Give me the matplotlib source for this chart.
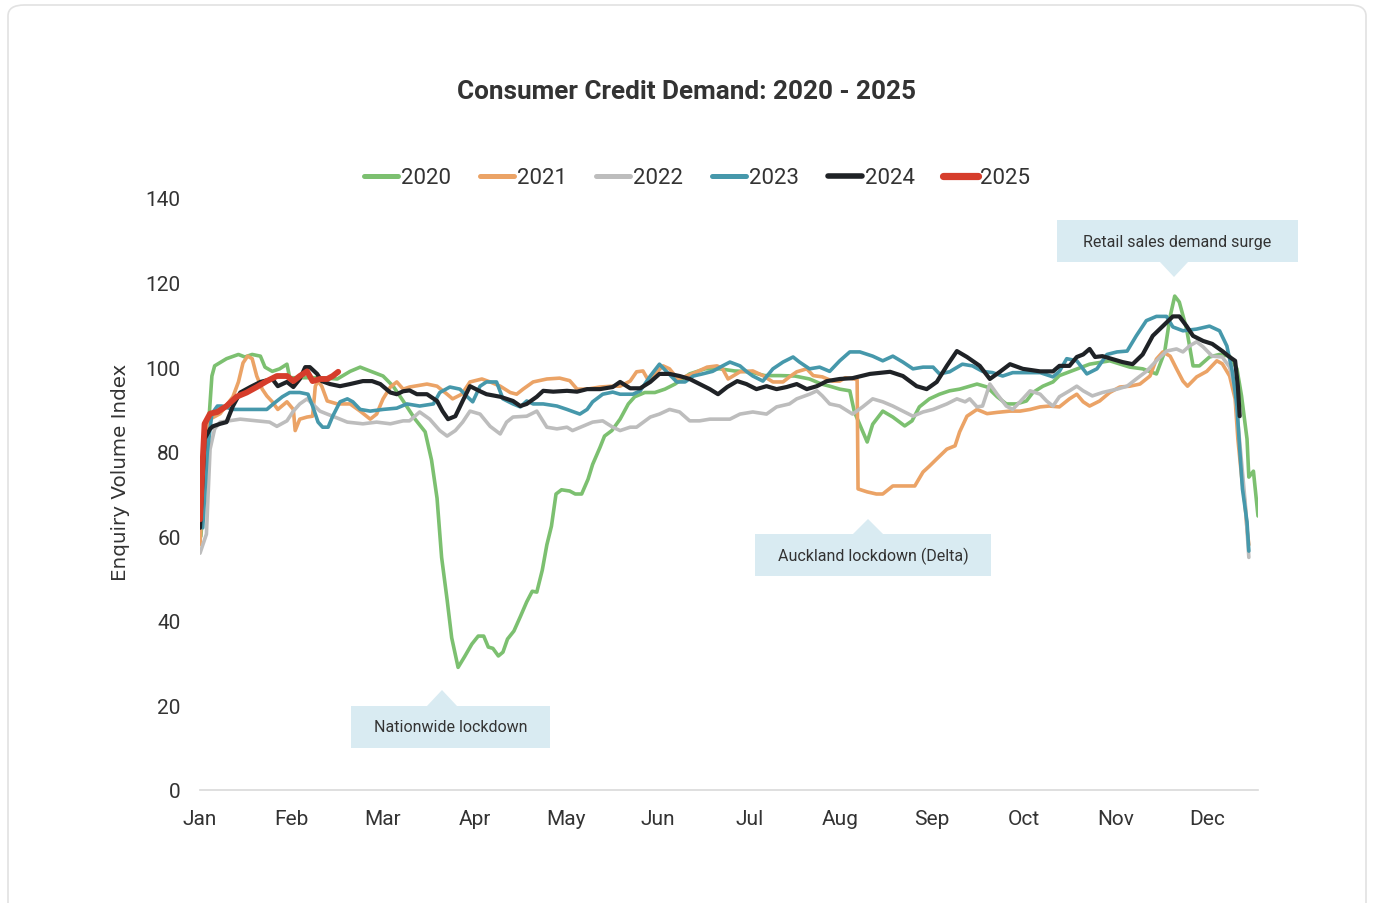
import matplotlib

matplotlib.use("Agg")
import matplotlib.pyplot as plt  # noqa: E402
from matplotlib.lines import Line2D  # noqa: E402
from matplotlib.patches import FancyBboxPatch, Polygon, Rectangle  # noqa: E402

plt.rcParams["font.family"] = ["Roboto", "DejaVu Sans"]

# x positions are in months since 1 Jan (0 = Jan, 11 = Dec), values are the index
months = ["Jan", "Feb", "Mar", "Apr", "May", "Jun", "Jul", "Aug", "Sep", "Oct", "Nov", "Dec"]
y_ticks = [0, 20, 40, 60, 80, 100, 120, 140]

x_2020 = [0.01, 0.13, 0.16, 0.29, 0.42, 0.49, 0.57, 0.66, 0.71, 0.79, 0.87, 0.95, 0.98, 1.09,
          1.31, 1.50, 1.64, 1.75, 1.88, 2.00, 2.11, 2.22, 2.35, 2.46, 2.53, 2.59, 2.64, 2.70,
          2.75, 2.82, 2.89, 2.97, 3.04, 3.10, 3.15, 3.20, 3.26, 3.31, 3.36, 3.43, 3.50, 3.57,
          3.63, 3.68, 3.74, 3.79, 3.84, 3.89, 3.95, 4.04, 4.10, 4.17, 4.24, 4.29, 4.37, 4.42,
          4.50, 4.59, 4.68, 4.75, 4.86, 4.97, 5.08, 5.19, 5.35, 5.52, 5.68, 5.84, 6.01, 6.17,
          6.34, 6.50, 6.66, 6.79, 6.88, 6.99, 7.10, 7.15, 7.29, 7.35, 7.46, 7.57, 7.70, 7.78,
          7.86, 7.97, 8.08, 8.19, 8.30, 8.38, 8.49, 8.60, 8.71, 8.81, 8.92, 9.03, 9.10, 9.21,
          9.32, 9.39, 9.50, 9.72, 9.94, 10.16, 10.30, 10.45, 10.54, 10.60, 10.65, 10.70, 10.78,
          10.85, 10.92, 11.03, 11.14, 11.25, 11.33, 11.38, 11.44, 11.46, 11.51, 11.56]
y_2020 = [60, 97.9, 100.3, 102, 103, 102.4, 103, 102.6, 100, 99, 99.6, 100.7, 97.5, 97.5,
          97.5, 97.2, 99, 100, 98.9, 97.9, 95.5, 92, 87.7, 84.7, 78, 69, 55, 45,
          36, 29, 31.5, 34.5, 36.4, 36.4, 33.8, 33.5, 31.7, 32.6, 35.7, 37.6, 41, 44.5,
          47, 46.8, 52, 58, 62.4, 70, 71, 70.7, 70, 70, 73.5, 77, 81, 83.7,
          85, 87.7, 91.3, 93, 94, 94, 94.8, 96, 98.4, 99.6, 99.6, 99.1, 98.9, 98,
          98, 97.9, 97.2, 96, 95.5, 94.8, 94.4, 89.4, 82.3, 86.5, 89.6, 88.2, 86.1, 87.3,
          90.6, 92.5, 93.6, 94.4, 94.8, 95.3, 96, 95.3, 93, 91.3, 91.3, 92, 94, 95.5,
          96.5, 98, 98.9, 100.7, 101.5, 100, 99.6, 98.4, 103.6, 112, 116.8, 115.4, 109,
          100.3, 100.3, 102.4, 103, 102.6, 99.6, 93.2, 83, 74, 75.4, 64.8]

x_2021 = [0.00, 0.05, 0.11, 0.22, 0.36, 0.42, 0.47, 0.52, 0.57, 0.62, 0.68, 0.73, 0.79, 0.85,
          0.95, 1.02, 1.04, 1.09, 1.17, 1.23, 1.26, 1.29, 1.33, 1.39, 1.50, 1.64, 1.75, 1.86,
          1.93, 2.00, 2.08, 2.15, 2.22, 2.29, 2.48, 2.59, 2.70, 2.76, 2.86, 2.95, 3.08, 3.17,
          3.28, 3.39, 3.46, 3.53, 3.64, 3.79, 3.93, 4.04, 4.12, 4.23, 4.37, 4.51, 4.59, 4.70,
          4.77, 4.84, 4.89, 4.95, 5.06, 5.13, 5.22, 5.32, 5.43, 5.54, 5.65, 5.71, 5.77, 5.90,
          6.04, 6.15, 6.26, 6.37, 6.44, 6.52, 6.63, 6.70, 6.80, 6.91, 6.99, 7.05, 7.15, 7.18,
          7.19, 7.29, 7.39, 7.46, 7.57, 7.72, 7.81, 7.90, 7.97, 8.05, 8.16, 8.25, 8.30, 8.38,
          8.49, 8.60, 8.71, 8.85, 8.96, 9.07, 9.18, 9.28, 9.39, 9.50, 9.58, 9.65, 9.72, 9.83,
          9.94, 10.05, 10.16, 10.27, 10.38, 10.45, 10.52, 10.60, 10.67, 10.74, 10.79, 10.89,
          11.00, 11.11, 11.17, 11.25, 11.31, 11.34, 11.38, 11.42, 11.44, 11.46]
y_2021 = [58, 80.6, 87.7, 89, 93, 96.5, 101, 102.6, 102, 97.9, 94.8, 93.2, 91.8, 90,
          91.8, 90, 85, 87.7, 88.2, 88.4, 95.5, 96.7, 95.5, 92, 91.3, 91.3, 89.6, 87.7,
          88.9, 92.5, 95.3, 96.5, 94.8, 95.3, 96, 95.5, 93.6, 92.5, 93.6, 96.5, 97.2, 96.5,
          95.5, 94, 93.6, 94.8, 96.5, 97.2, 97.4, 96.8, 94.8, 94.8, 95.3, 95.5, 95.5, 96.7,
          98.9, 99.1, 97.2, 97.9, 100.3, 99.6, 97.2, 97.9, 98.9, 100, 100.3, 99.6, 97.2, 98.9,
          99.1, 98, 96.5, 96.5, 97.7, 98.9, 99.6, 98, 97.7, 96.7, 96.7, 97.5, 97.2, 97,
          71.2, 70.5, 70, 70, 71.9, 71.9, 71.9, 75.2, 76.6, 78.3, 80.6, 81.4, 84.7, 88.4,
          90, 89, 89.3, 89.6, 89.6, 90, 90.6, 90.8, 90.6, 92.5, 93.6, 91.8, 90.8, 92,
          94, 95.3, 95.5, 96, 97.9, 101.9, 103.6, 102.6, 99.6, 96.7, 95.5, 97.7,
          99, 101.5, 100.8, 97.9, 92.5, 83, 74.3, 67.2, 61.7, 58]

x_2022 = [0.00, 0.07, 0.11, 0.16, 0.22, 0.44, 0.62, 0.76, 0.84, 0.95, 1.02, 1.09, 1.17, 1.23,
          1.31, 1.39, 1.45, 1.61, 1.78, 1.93, 2.08, 2.22, 2.29, 2.40, 2.51, 2.62, 2.70, 2.79,
          2.87, 2.95, 3.06, 3.17, 3.28, 3.35, 3.42, 3.57, 3.68, 3.79, 3.90, 4.01, 4.07, 4.18,
          4.29, 4.40, 4.51, 4.59, 4.70, 4.77, 4.92, 5.02, 5.13, 5.24, 5.35, 5.46, 5.57, 5.68,
          5.79, 5.90, 6.04, 6.19, 6.30, 6.44, 6.52, 6.66, 6.74, 6.80, 6.88, 6.99, 7.13, 7.24,
          7.35, 7.46, 7.57, 7.68, 7.79, 7.90, 8.01, 8.16, 8.27, 8.36, 8.41, 8.49, 8.55, 8.63,
          8.71, 8.81, 8.88, 8.99, 9.07, 9.18, 9.25, 9.32, 9.39, 9.50, 9.58, 9.65, 9.75, 9.86,
          10.02, 10.13, 10.23, 10.34, 10.45, 10.56, 10.67, 10.74, 10.81, 10.89, 10.96, 11.06,
          11.17, 11.25, 11.31, 11.34, 11.38, 11.42, 11.46]
y_2022 = [56, 60.5, 80.6, 85.4, 87, 87.7, 87.3, 87, 86, 87.3, 89.6, 91.3, 92.5, 91.3,
          89.6, 88.9, 88.4, 87, 86.6, 87, 86.6, 87.3, 87.3, 89.4, 87.7, 85, 83.7, 85,
          87, 89.6, 88.9, 86, 84.2, 87, 88.2, 88.4, 89.6, 85.8, 85.4, 85.8, 85, 86,
          87, 87.3, 85.8, 85, 85.8, 85.8, 88.2, 88.9, 90, 89.4, 87.3, 87.3, 87.7, 87.7,
          87.7, 88.9, 89.4, 88.9, 90.6, 91.3, 92.5, 93.6, 94.4, 93.2, 91.3, 90.8, 88.9, 90.6,
          92.5, 91.8, 90.8, 89.6, 88.4, 89.4, 90, 91.3, 92.5, 91.8, 92.5, 90.6, 90.8, 96,
          93.6, 90.8, 90, 92.5, 94.4, 93.6, 92, 90.8, 93, 94.4, 95.5, 94.4, 93.2, 94,
          94.8, 95.5, 97.2, 99, 101.5, 103.8, 104.3, 103.6, 105, 106, 104.8, 102.6,
          102.4, 100, 94.8, 87, 77.6, 68, 55]

x_2023 = [0.03, 0.08, 0.13, 0.19, 0.24, 0.36, 0.55, 0.73, 0.80, 0.90, 0.98, 1.09, 1.18, 1.23,
          1.29, 1.34, 1.40, 1.45, 1.53, 1.61, 1.67, 1.75, 1.86, 2.00, 2.15, 2.26, 2.40, 2.55,
          2.62, 2.73, 2.84, 2.92, 2.98, 3.06, 3.13, 3.24, 3.31, 3.42, 3.50, 3.57, 3.64, 3.75,
          3.90, 4.01, 4.15, 4.23, 4.29, 4.40, 4.51, 4.59, 4.73, 4.81, 4.92, 5.02, 5.10, 5.21,
          5.30, 5.39, 5.49, 5.60, 5.71, 5.79, 5.90, 5.97, 6.04, 6.15, 6.26, 6.37, 6.48, 6.55,
          6.66, 6.77, 6.88, 6.99, 7.10, 7.21, 7.35, 7.46, 7.57, 7.68, 7.79, 7.90, 8.01, 8.08,
          8.19, 8.33, 8.44, 8.55, 8.66, 8.77, 8.88, 9.03, 9.18, 9.32, 9.39, 9.47, 9.58, 9.69,
          9.80, 9.91, 10.02, 10.13, 10.23, 10.34, 10.45, 10.56, 10.63, 10.74, 10.89, 11.03,
          11.14, 11.22, 11.28, 11.33, 11.36, 11.39, 11.44, 11.46]
y_2023 = [62, 80, 89, 90.8, 90.8, 90, 90, 90, 91.3, 93, 94, 94, 93.6, 90.8,
          87, 85.8, 85.8, 88.4, 91.8, 92.5, 91.8, 90, 89.6, 90, 90.3, 91.3, 90.8, 91.3,
          94, 95.3, 94.8, 93, 91.8, 95.5, 96.5, 96.5, 92.5, 91.3, 90.6, 92, 91.3, 91.3,
          90.8, 90, 88.9, 90, 91.8, 93.6, 94.1, 93.6, 93.6, 94.4, 97.9, 100.7, 98.9, 96.5,
          96.5, 97.9, 98.4, 99, 100.3, 101.2, 100.3, 99, 97.9, 96.7, 99.6, 101.2, 102.4, 101.2,
          99.6, 100, 99, 101.5, 103.6, 103.6, 102.6, 101.5, 102.6, 101.2, 99.6, 100, 100, 98.4,
          98.9, 100.7, 100.3, 99, 98.7, 97.9, 98.7, 98.7, 98.7, 97.7, 99, 102, 101.5, 98.4,
          99.6, 103, 103.6, 103.8, 107.4, 111, 112, 112, 109.5, 108.6, 109, 109.7,
          108.6, 105, 98.9, 90.8, 80.6, 71.2, 63.4, 56.5]

x_2024 = [0.00, 0.05, 0.11, 0.14, 0.22, 0.29, 0.36, 0.44, 0.55, 0.66, 0.79, 0.85, 0.95, 1.02,
          1.09, 1.15, 1.20, 1.28, 1.33, 1.42, 1.53, 1.64, 1.78, 1.88, 1.97, 2.08, 2.15, 2.22,
          2.29, 2.37, 2.48, 2.59, 2.65, 2.71, 2.79, 2.87, 2.95, 3.06, 3.13, 3.28, 3.42, 3.50,
          3.57, 3.68, 3.75, 3.86, 4.01, 4.12, 4.23, 4.37, 4.51, 4.59, 4.70, 4.81, 4.92, 5.02,
          5.13, 5.24, 5.35, 5.46, 5.57, 5.66, 5.76, 5.87, 5.97, 6.08, 6.19, 6.30, 6.41, 6.52,
          6.63, 6.74, 6.85, 6.99, 7.13, 7.32, 7.54, 7.68, 7.83, 7.94, 8.05, 8.16, 8.27, 8.38,
          8.52, 8.63, 8.74, 8.85, 8.99, 9.18, 9.32, 9.39, 9.50, 9.58, 9.65, 9.72, 9.78, 9.86,
          9.97, 10.08, 10.19, 10.30, 10.41, 10.52, 10.63, 10.70, 10.78, 10.85, 10.96, 11.06,
          11.17, 11.25, 11.31, 11.34, 11.36]
y_2024 = [62, 83, 85.4, 86, 86.6, 87, 90.8, 94, 95.3, 96.5, 97.2, 95.5, 96.5, 95.3,
          97.2, 100, 100, 98.4, 96.7, 96, 95.5, 96, 96.7, 96.7, 96, 94, 93.6, 94.3,
          94.5, 93.6, 93.6, 92, 89.6, 87.7, 88.4, 92, 95.5, 94.3, 93.6, 93, 92, 90.8,
          91.3, 93, 94.4, 94.2, 94.4, 94.2, 94.8, 94.8, 95.3, 96.5, 95, 95, 96.5, 98.4,
          98.4, 97.9, 97.2, 96, 94.8, 93.6, 95.3, 96.7, 96, 94.8, 95.5, 94.8, 95.3, 96,
          94.8, 95.5, 96.7, 97.2, 97.4, 98.4, 98.9, 97.9, 95.5, 94.8, 96.5, 100.3, 103.8, 102.4,
          100.3, 97.2, 98.9, 100.7, 99.6, 99, 99, 100.3, 100.3, 102.4, 103, 104.3, 102.4, 102.6,
          101.9, 101.2, 100.7, 103, 107.4, 109.7, 112, 112, 109.7, 107.4, 106.2, 105.5,
          103.8, 102.4, 101.5, 95.5, 88.4]

x_2025 = [0.00, 0.03, 0.05, 0.11, 0.19, 0.29, 0.40, 0.51, 0.62, 0.73, 0.84, 0.95, 1.02, 1.09,
          1.17, 1.23, 1.31, 1.39, 1.45, 1.51]
y_2025 = [64, 78, 86.6, 89, 89.4, 90.8, 93, 94, 95.3, 96.7, 97.9, 97.9, 96.7, 97.9,
          99, 96.7, 97.2, 97.2, 97.9, 98.9]

series = [
    ("2020", x_2020, y_2020, "#7cc070", 2.6),
    ("2021", x_2021, y_2021, "#eba366", 2.6),
    ("2022", x_2022, y_2022, "#bdbdbd", 2.6),
    ("2023", x_2023, y_2023, "#4698ab", 2.6),
    ("2024", x_2024, y_2024, "#1f2226", 3.0),
    ("2025", x_2025, y_2025, "#d63d2b", 4.2),
]

W, H = 1373, 904
fig = plt.figure(figsize=(W / 100, H / 100), dpi=100)


def fx(px):
    return px / W


def fy(py):
    return 1 - py / H


# card outline
fig.patches.append(FancyBboxPatch((fx(8), fy(930)), fx(1358), fy(6) - fy(930),
                                  boxstyle="round,pad=0,rounding_size=0.012",
                                  transform=fig.transFigure, facecolor="none",
                                  edgecolor="#e2e2e2", linewidth=1.2, zorder=0))

ax = fig.add_axes((fx(200), fy(791), fx(1258) - fx(200), fy(199) - fy(791)))
ax.set_facecolor("none")

for name, xs, ys, color, lw in series:
    ax.plot(xs, ys, color=color, linewidth=lw, solid_capstyle="round",
            solid_joinstyle="round", zorder=3)

ax.set_xlim(0, 11.56)
ax.set_ylim(0, 140)
ax.set_xticks(range(12))
ax.set_xticklabels(months, fontsize=15, color="#333333")
ax.set_yticks(y_ticks)
ax.set_yticklabels([str(v) for v in y_ticks], fontsize=15, color="#333333")
ax.tick_params(axis="both", length=0)
ax.tick_params(axis="x", pad=14)
ax.tick_params(axis="y", pad=14)
for side in ("top", "right", "left"):
    ax.spines[side].set_visible(False)
ax.spines["bottom"].set_color("#d9d9d9")
ax.spines["bottom"].set_linewidth(1.2)
ax.set_ylabel("Enquiry Volume Index", fontsize=14.3, color="#333333",
              family=["DejaVu Sans"])
ax.yaxis.set_label_coords((130 - 200) / 1058, (791 - 472) / 592)

fig.text(0.5, fy(92), "Consumer Credit Demand: 2020 - 2025", ha="center", va="center",
         fontsize=18.8, fontweight="bold", color="#333333")

handles = [Line2D([0], [0], color=c, linewidth=lw + 1.0, solid_capstyle="round")
           for _, _, _, c, lw in series]
fig.legend(handles, [s[0] for s in series], loc="center", bbox_to_anchor=(fx(697), fy(179)),
           ncol=6, frameon=False, fontsize=16, handlelength=1.55, handletextpad=0.12,
           columnspacing=1.3, labelcolor="#333333")

# callout boxes with pointer triangles
box_color = "#d9ebf2"
callouts = [
    ("Retail sales demand surge", (1057, 221, 1298, 263), (1160, 1188, 1174, 263, 278)),
    ("Auckland lockdown (Delta)", (755, 535, 991, 577), (853, 883, 868, 535, 520)),
    ("Nationwide lockdown", (351, 707, 550, 749), (427, 457, 442, 707, 691)),
]
for label, (x0, y0, x1, y1), (t0, t1, tx, tb, ttip) in callouts:
    fig.patches.append(Rectangle((fx(x0), fy(y1)), fx(x1) - fx(x0), fy(y0) - fy(y1),
                                 transform=fig.transFigure, facecolor=box_color,
                                 edgecolor="none", zorder=4))
    fig.patches.append(Polygon([(fx(t0), fy(tb)), (fx(t1), fy(tb)), (fx(tx), fy(ttip))],
                               closed=True, transform=fig.transFigure,
                               facecolor=box_color, edgecolor="none", zorder=4))
    fig.text(fx((x0 + x1) / 2), fy((y0 + y1) / 2), label, ha="center", va="center",
             fontsize=11.5, color="#333333", zorder=5)

fig.savefig("out.png", dpi=100)
